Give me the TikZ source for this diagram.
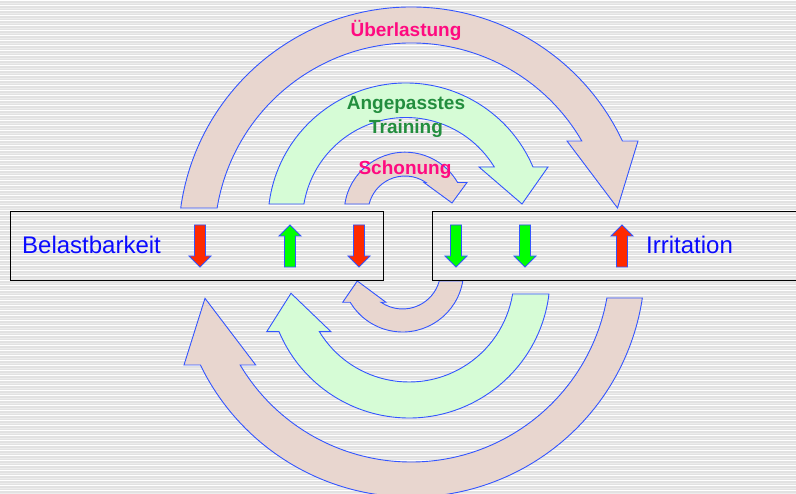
\documentclass[tikz,border=0pt]{standalone}
\usepackage{fontspec}
\setmainfont{Liberation Sans}
\usetikzlibrary{calc}
\definecolor{bgbase}{HTML}{E2E2E2}
\definecolor{bglight}{HTML}{ECECEC}
\definecolor{bandpink}{HTML}{E8D6CF}
\definecolor{bandgreen}{HTML}{D6FCD6}
\definecolor{outl}{HTML}{3355FF}
\definecolor{txtpink}{HTML}{FF0A80}
\definecolor{txtgreen}{HTML}{238E3E}
\definecolor{txtblue}{HTML}{0A0AFF}
\definecolor{arrred}{HTML}{FF2A00}
\definecolor{arrgreen}{HTML}{00FF00}
\begin{document}
\begin{tikzpicture}[x=1pt,y=1pt,
  band/.style={draw=outl, line width=0.9pt, line join=miter, fill=#1},
  smallarr/.style={draw=outl, line width=0.9pt, fill=#1},
  boxnode/.style={draw=black, line width=1pt, fill=none, inner sep=0pt, anchor=north west, minimum height=69},
  bigtxt/.style={text=txtblue, font=\fontsize{24}{28}\selectfont, inner sep=0pt, anchor=base west},
  lbl/.style={font=\bfseries\fontsize{19}{22}\selectfont, inner sep=0pt, anchor=base},
  pics/dnarr/.style={code={\draw[smallarr=#1] (-5.5,21) -- (5.5,21) -- (5.5,-10) -- (11,-10) -- (0,-21) -- (-11,-10) -- (-5.5,-10) -- cycle;}},
  pics/uparr/.style={code={\draw[smallarr=#1] (-5.5,-21) -- (5.5,-21) -- (5.5,10) -- (11,10) -- (0,21) -- (-11,10) -- (-5.5,10) -- cycle;}}
]
\useasboundingbox (0,0) rectangle (796,494);
\clip (0,0) rectangle (796,494);
% striped background
\fill[bgbase] (0,0) rectangle (796,494);
\foreach \k in {0,...,99}{
  \fill[white] (0,{494-5*\k-1.2}) rectangle (796,{494-5*\k});
  \fill[bglight] (0,{494-5*\k-3.6}) rectangle (796,{494-5*\k-2.6});
}
% arc centres
\coordinate (C1) at (411.5,254);
\coordinate (C2) at (406,273);
\coordinate (C3) at (405,281);
\coordinate (C4) at (402.6,223);
\coordinate (C5) at (409,217);
\coordinate (C6) at (411,231);
% upper arrows
\draw[band=bandpink] ($(C1)+(172.11:233)$) arc[start angle=172.11,end angle=25.14,radius=233]
  -- (638,353) -- (617.5,286) -- (567,353)
  -- ($(C1)+(30.17:197)$) arc[start angle=30.17,end angle=170.65,radius=197] -- cycle;
\draw[band=bandgreen] ($(C2)+(172.92:138)$) arc[start angle=172.92,end angle=23.04,radius=138]
  -- (548,327) -- (522,290) -- (479,327)
  -- ($(C2)+(31.45:103.5)$) arc[start angle=31.45,end angle=170.55,radius=103.5] -- cycle;
\draw[band=bandpink] ($(C3)+(171.49:60.8)$) arc[start angle=171.49,end angle=30.11,radius=60.8]
  -- (467,311.5) -- (452,291) -- (424,311.5)
  -- ($(C3)+(55.52:37)$) arc[start angle=55.52,end angle=165.92,radius=37] -- cycle;
% lower arrows
\draw[band=bandpink] ($(C4)+(-9.44:61)$) arc[start angle=-9.44,end angle=-149.13,radius=61]
  -- (342.7,191.7) -- (357.3,213) -- (386,191.7)
  -- ($(C4)+(-124.55:38)$) arc[start angle=-124.55,end angle=-15.26,radius=38] -- cycle;
\draw[band=bandgreen] ($(C5)+(-6.93:141)$) arc[start angle=-6.93,end angle=-157.17,radius=141]
  -- (266.7,162.3) -- (291,200.7) -- (331,162.3)
  -- ($(C5)+(-148.6:105)$) arc[start angle=-148.6,end angle=-9.32,radius=105] -- cycle;
\draw[band=bandpink] ($(C6)+(-8.6:234)$) arc[start angle=-8.6,end angle=-154.16,radius=234]
  -- (184,129) -- (205,195.7) -- (255.7,129)
  -- ($(C6)+(-149.16:199)$) arc[start angle=-149.16,end angle=-10.13,radius=199] -- cycle;
% boxes
\node[boxnode, minimum width=373] (lbox) at (10,283) {};
\node[boxnode, minimum width=372] (rbox) at (432,283) {};
% box texts
\node[bigtxt] (belast) at (22,240.7) {Belastbarkeit};
\node[bigtxt] (irrit) at (646,240.5) {Irritation};
% small arrows
\pic at (200,248) {dnarr=arrred};
\pic at (290,248) {uparr=arrgreen};
\pic at (359,248) {dnarr=arrred};
\pic at (456,248) {dnarr=arrgreen};
\pic at (525,248) {dnarr=arrgreen};
\pic at (622,248) {uparr=arrred};
% labels
\node[lbl, text=txtpink] (ueber) at (406,457.5) {Überlastung};
\node[lbl, text=txtgreen] (trainA) at (406,384) {Angepasstes};
\node[lbl, text=txtgreen] (trainB) at (406,360.7) {Training};
\node[lbl, text=txtpink] (schon) at (405,319.5) {Schonung};
\end{tikzpicture}
\end{document}
